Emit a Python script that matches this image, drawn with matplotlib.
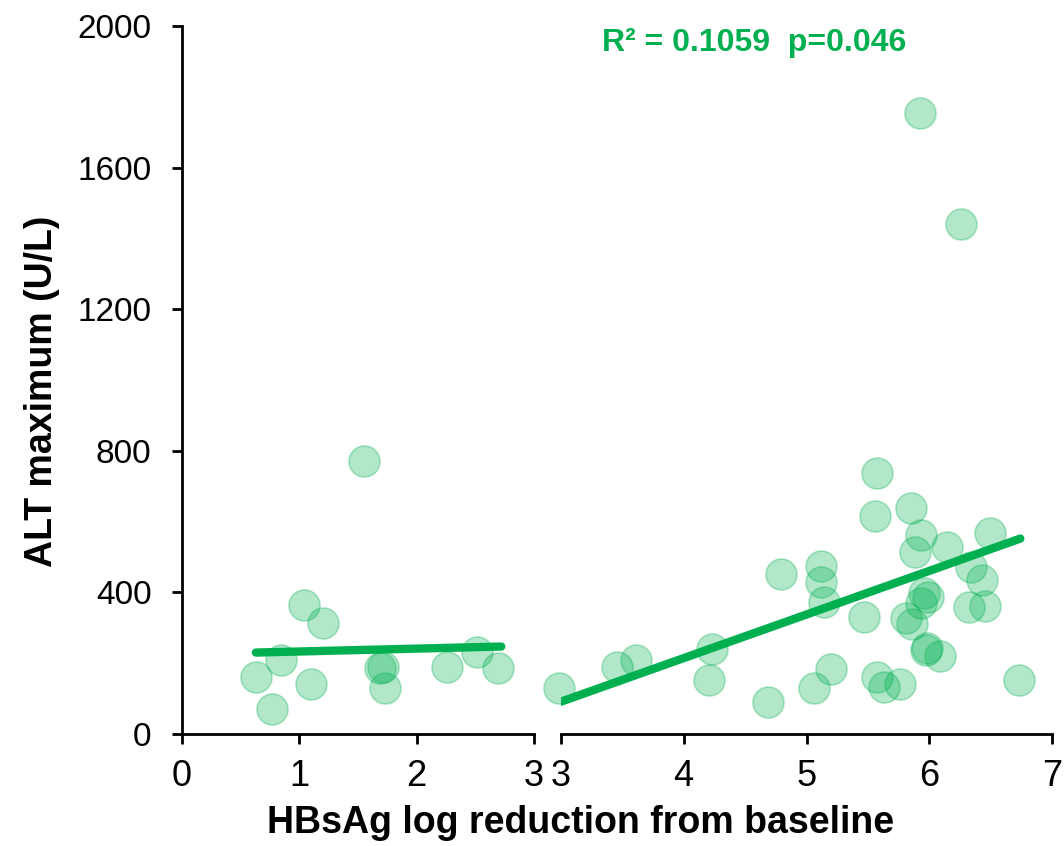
import matplotlib.pyplot as plt

plt.rcParams['font.family'] = ['Liberation Sans', 'DejaVu Sans']

# left panel (0-3 log reduction)
left_x = [1.55, 1.04, 1.20, 0.84, 0.63, 0.77, 1.10, 1.69, 1.71, 1.73, 2.26, 2.51, 2.69]
left_y = [771, 365, 314, 209, 162, 71, 140, 187, 190, 130, 190, 232, 186]
left_fit_x = [0.63, 2.72]
left_fit_y = [230, 247]

# right panel (3-7 log reduction)
right_x = [2.99, 3.46, 3.61, 4.23, 4.21, 4.79, 4.69, 5.12, 5.12, 5.14, 5.06, 5.20,
           5.57, 5.56, 5.47, 5.57, 5.63, 5.76, 5.85, 5.93, 5.88, 6.14, 6.49, 6.34,
           6.43, 6.32, 6.45, 5.96, 5.99, 5.93, 5.81, 5.86, 5.97, 5.98, 6.09, 6.73,
           5.92, 6.26]
right_y = [131, 189, 209, 240, 152, 453, 91, 475, 430, 374, 129, 184,
           738, 616, 330, 160, 134, 140, 637, 561, 514, 527, 567, 471,
           434, 359, 362, 397, 388, 369, 327, 310, 237, 242, 219, 152,
           1753, 1441]
right_fit_x = [3.0, 6.74]
right_fit_y = [91, 552]

green = '#00B050'

fig = plt.figure(figsize=(10.64, 8.46), dpi=100)
ax1 = fig.add_axes([0.171, 0.1324, 0.331, 0.837])
ax2 = fig.add_axes([0.527, 0.1324, 0.462, 0.837])

for ax, xs, ys, fx, fy in [(ax1, left_x, left_y, left_fit_x, left_fit_y),
                           (ax2, right_x, right_y, right_fit_x, right_fit_y)]:
    ax.scatter(xs, ys, s=500, facecolor=green, alpha=0.3, edgecolor=green,
               linewidth=1.2, clip_on=False, zorder=2)
    ax.plot(fx, fy, color=green, lw=6, solid_capstyle='round', zorder=3)
    ax.set_ylim(0, 2000)
    ax.spines['top'].set_visible(False)
    ax.spines['right'].set_visible(False)
    ax.spines['bottom'].set_linewidth(2)
    ax.spines['left'].set_linewidth(2)
    ax.tick_params(axis='both', width=2, length=7, direction='out')
    ax.tick_params(axis='x', labelsize=26, pad=11)
    ax.tick_params(axis='y', labelsize=24, pad=15)

ax1.set_xlim(0, 3)
ax1.set_xticks([0, 1, 2, 3])
ax1.set_yticks([0, 400, 800, 1200, 1600, 2000])

ax2.set_xlim(3, 7)
ax2.set_xticks([3, 4, 5, 6, 7])
ax2.spines['left'].set_visible(False)
ax2.tick_params(axis='y', left=False, labelleft=False)
ax2.text(4.57, 1930, 'R² = 0.1059  p=0.046', color=green, fontsize=23,
         fontweight='bold', ha='center', va='baseline')

fig.text(0.0395, 0.538, 'ALT maximum (U/L)', fontsize=27, fontweight='bold',
         rotation=90, ha='center', va='center')
fig.text(0.546, 0.0154, 'HBsAg log reduction from baseline', fontsize=27,
         fontweight='bold', ha='center', va='baseline')

fig.savefig('out.png', dpi=100)
